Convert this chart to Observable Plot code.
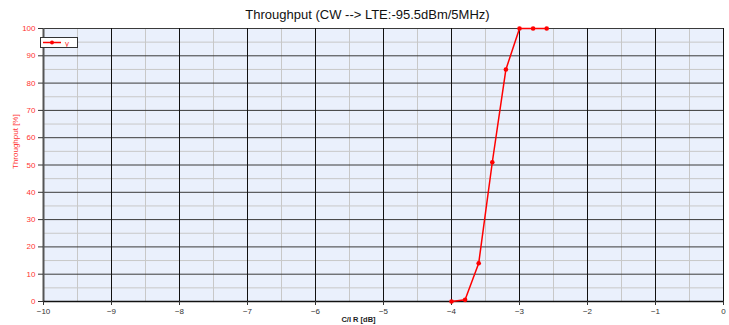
<!DOCTYPE html>
<html>
<head>
<meta charset="utf-8">
<script src="https://cdn.jsdelivr.net/npm/d3@7"></script>
<script src="https://cdn.jsdelivr.net/npm/@observablehq/plot@0.6"></script>
<style>
  html, body { margin: 0; padding: 0; background: #fff; }
  #wrap { position: relative; width: 729px; height: 325px; overflow: hidden; font-family: "Liberation Sans", Arial, sans-serif; }
  #legend { position: absolute; left: 40px; top: 37px; width: 38px; height: 11px; background: #fff; border: 1px solid #333; box-sizing: border-box; }
</style>
</head>
<body>
<div id="wrap">
  <div id="chart"></div>
  <div id="legend">
    <svg width="36" height="9" style="position:absolute;left:0;top:0">
      <line x1="2" y1="4.5" x2="20" y2="4.5" stroke="#ff0000" stroke-width="1.5"></line>
      <circle cx="11" cy="4.5" r="2" fill="#ff0000"></circle>
      <text x="24" y="8" font-size="8" fill="#ff3333" font-family="Liberation Sans, Arial, sans-serif">y</text>
    </svg>
  </div>
</div>
<script>
const cir = [-4.0, -3.8, -3.6, -3.4, -3.2, -3.0, -2.8, -2.6];
const throughput = [0, 0.6, 14, 51, 85, 100, 100, 100];
const xTicks = [-10, -9, -8, -7, -6, -5, -4, -3, -2, -1, 0];
const xMinor = [-9.5, -8.5, -7.5, -6.5, -5.5, -4.5, -3.5, -2.5, -1.5, -0.5];
const yTicks = [0, 10, 20, 30, 40, 50, 60, 70, 80, 90, 100];
const yMinor = [5, 15, 25, 35, 45, 55, 65, 75, 85, 95];
const titleText = "Throughput (CW --> LTE:-95.5dBm/5MHz)";
const xLabel = "C/I R [dB]";
const yLabel = "Throughput [%]";

const data = cir.map((x, i) => ({x, y: throughput[i]}));

const chart = Plot.plot({
  width: 729,
  height: 325,
  marginLeft: 43,
  marginRight: 6,
  marginTop: 28,
  marginBottom: 24,
  style: {fontFamily: "Liberation Sans, Arial, sans-serif", background: "transparent", overflow: "visible"},
  x: {domain: [-10, 0]},
  y: {domain: [0, 100]},
  marks: [
    Plot.frame({fill: "#eaf0fc", stroke: null}),
    Plot.ruleX(xMinor, {stroke: "#c8c8c8", strokeWidth: 1}),
    Plot.ruleY(yMinor, {stroke: "#c8c8c8", strokeWidth: 1}),
    Plot.ruleY(yTicks.slice(1), {stroke: "#3a3a3a", strokeWidth: 1}),
    Plot.ruleX(xTicks.slice(1), {stroke: "#111", strokeWidth: 1}),
    Plot.ruleX([-10], {stroke: "#555", strokeWidth: 2}),
    Plot.ruleY([0], {stroke: "#111", strokeWidth: 1.5}),
    Plot.axisY({ticks: yTicks, tickSize: 5, tickPadding: 3, fontSize: 8, fill: "#ff3333", stroke: "#333", label: null}),
    Plot.axisX({ticks: xTicks, tickSize: 4, tickPadding: 3, fontSize: 8, fill: "#333", stroke: "#333", label: null}),
    Plot.line(data, {x: "x", y: "y", stroke: "#ff0000", strokeWidth: 1.5}),
    Plot.dot(data, {x: "x", y: "y", fill: "#ff0000", r: 2.3}),
    Plot.text([titleText], {frameAnchor: "top", dy: -19, dx: -16, fontSize: 13, fill: "#111"}),
    Plot.text([yLabel], {frameAnchor: "left", dx: -28, dy: 4, rotate: -90, fontSize: 8, fill: "#ff3333"}),
    Plot.text([xLabel], {frameAnchor: "bottom", dy: 20, dx: -25, fontSize: 7.5, fontWeight: "bold", fill: "#222"})
  ]
});
document.getElementById("chart").appendChild(chart);
</script>
</body>
</html>
